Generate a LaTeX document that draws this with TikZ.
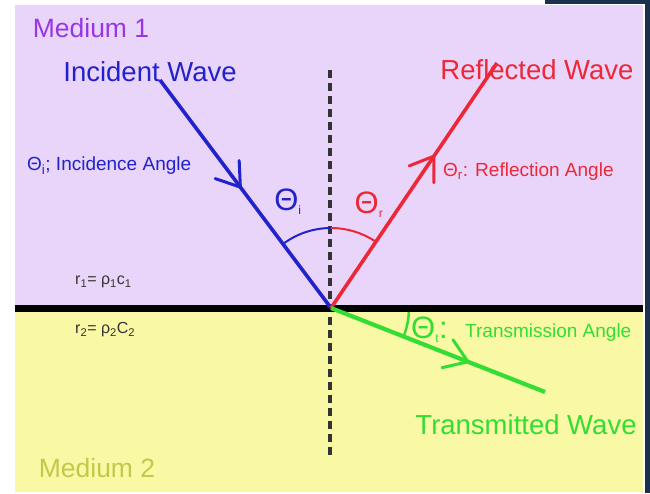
\documentclass[tikz,border=0pt]{standalone}
\usepackage{fontspec}
\setmainfont{Liberation Sans}
\usetikzlibrary{decorations.markings}
\definecolor{lav}{RGB}{233,212,250}
\definecolor{ylw}{RGB}{249,249,165}
\definecolor{navy}{RGB}{27,47,78}
\definecolor{wblue}{RGB}{34,34,204}
\definecolor{wred}{RGB}{236,40,56}
\definecolor{wgreen}{RGB}{51,221,51}
\definecolor{mpurple}{RGB}{150,55,230}
\definecolor{molive}{RGB}{195,200,75}
\definecolor{dtext}{RGB}{51,51,51}
\tikzset{
  wave/.style={line width=3.6pt},
  midarrow/.style={postaction={decorate},decoration={markings,
    mark=at position #1 with {\draw[line width=3pt,line cap=round,line join=miter]
      (-22pt,-15pt) -- (0pt,0pt) -- (-22pt,15pt);}}},
  biglabel/.style={font=\fontsize{27.5}{27.5}\selectfont,inner sep=0pt},
  medlabel/.style={font=\fontsize{26.5}{26.5}\selectfont,inner sep=0pt},
  smalllabel/.style={font=\fontsize{19}{19}\selectfont,inner sep=0pt},
  thetabig/.style={font=\fontsize{31}{31}\selectfont,inner sep=0pt},
  rlabel/.style={font=\fontsize{16}{16}\selectfont,inner sep=0pt,text=dtext},
}
\begin{document}
\begin{tikzpicture}[x=1pt,y=-1pt]
\useasboundingbox (0,0) rectangle (650,493);
\fill[white] (0,0) rectangle (650,493);
% backgrounds
\fill[lav] (15,5) rectangle (643,308);
\fill[ylw] (15,308) rectangle (643,492);
\fill[navy] (645,0) rectangle (650,493);
\fill[navy] (545,0) rectangle (650,4);
% coordinates
\coordinate (V) at (331,308);
\coordinate (Iend) at (160,80);
\coordinate (Rend) at (497,63);
\coordinate (Tend) at (545,392);
\coordinate (Ntop) at (330,70);
\coordinate (Nbot) at (330,455);
\coordinate (Lleft) at (15,308);
\coordinate (Lright) at (643,308);
% normal
\draw[line width=3.5pt,dash pattern=on 8pt off 5pt,draw=black!80] (Ntop) -- (Nbot);
% interface
\draw[line width=7pt] (Lleft) -- (Lright);
% waves
\draw[wave,wblue,midarrow=0.47] (Iend) -- (V);
\draw[wave,wred,midarrow=0.62] (V) -- (Rend);
\draw[wave,line width=4.2pt,wgreen,midarrow=0.64] (V) -- (Tend);
% angle arcs
\draw[wblue,line width=2pt] (V) ++(233:80) arc[start angle=233,end angle=270,radius=80];
\draw[wred,line width=2pt] (V) ++(270:80) arc[start angle=270,end angle=304,radius=80];
\draw[wgreen,line width=2.5pt] (V) ++(3:78) arc[start angle=3,end angle=20,radius=78];
% texts
\node[medlabel,text=mpurple] (m1) at (91,28) {Medium 1};
\node[medlabel,text=molive] (m2) at (97,468) {Medium 2};
\node[biglabel,text=wblue] (iw) at (150,72) {Incident Wave};
\node[biglabel,text=wred] (rw) at (537,70) {Reflected Wave};
\node[biglabel,text=wgreen] (tw) at (526,425) {Transmitted Wave};
\node[smalllabel,text=wblue,anchor=west] (ia) at (27,166) {Θ\textsubscript{i}; Incidence Angle};
\node[smalllabel,text=wred,anchor=west] (ra) at (443,172) {Θ\textsubscript{r}: Reflection Angle};
\node[thetabig,text=wgreen,anchor=west] (tt) at (411,330) {Θ\textsubscript{\fontsize{12}{12}\selectfont t}:};
\node[smalllabel,text=wgreen,anchor=west] (ta) at (465,333) {Transmission Angle};
\node[thetabig,text=wblue] (thi) at (288,202) {Θ\textsubscript{\fontsize{12}{12}\selectfont i}};
\node[thetabig,text=wred] (thr) at (369,205) {Θ\textsubscript{\fontsize{12}{12}\selectfont r}};
\node[rlabel,anchor=west] (r1) at (75,282) {r\textsubscript{1}= ρ\textsubscript{1}c\textsubscript{1}};
\node[rlabel,anchor=west] (r2) at (75,330) {r\textsubscript{2}= ρ\textsubscript{2}C\textsubscript{2}};
\end{tikzpicture}
\end{document}
